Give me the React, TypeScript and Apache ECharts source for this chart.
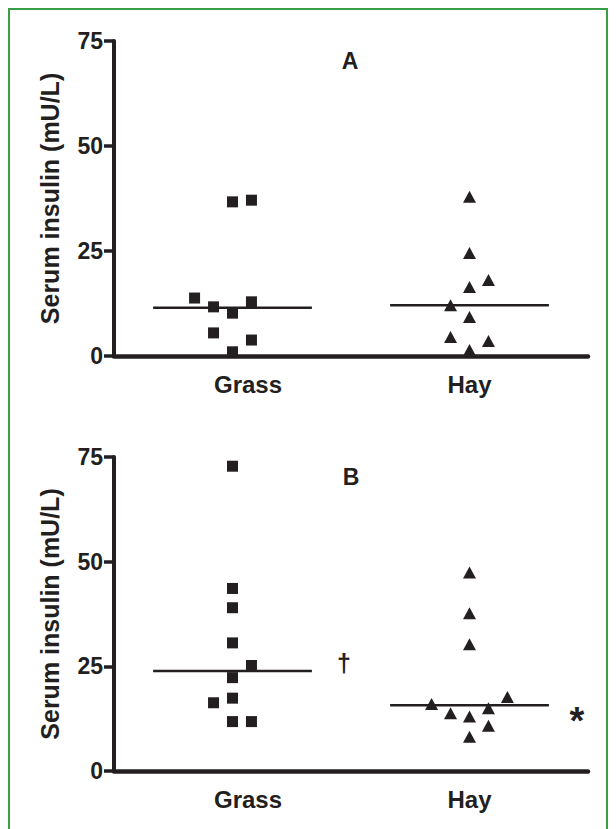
import React, { useEffect, useRef } from "react";
import * as echarts from "echarts";

// ---- data ----
const categories = ["Grass", "Hay"];
const yTicks = [0, 25, 50, 75];

// Panel A (values in mU/L, jitter in column steps)
const aGrassValues = [36.7, 37.1, 13.8, 11.7, 10.2, 12.9, 5.5, 3.8, 1.0];
const aGrassJitter = [0, 1, -2, -1, 0, 1, -1, 1, 0];
const aHayValues = [37.9, 24.5, 16.4, 18.1, 12.1, 9.3, 4.5, 3.6, 1.4];
const aHayJitter = [0, 0, 0, 1, -1, 0, -1, 1, 0];
const aMedians = [11.5, 12.1];

// Panel B
const bGrassValues = [72.8, 43.6, 39.0, 30.6, 25.2, 22.3, 16.3, 17.4, 11.8, 11.8];
const bGrassJitter = [0, 0, 0, 0, 1, 0, -1, 0, 0, 1];
const bHayValues = [47.4, 37.7, 30.3, 17.7, 16.0, 13.8, 13.0, 15.0, 10.8, 8.2];
const bHayJitter = [0, 0, 0, 2, -2, -1, 0, 1, 1, 0];
const bMedians = [23.9, 15.7];

const panelLabels = ["A", "B"];
const grassMark = "†";
const hayMark = "*";

const INK = "#231f20";
const FONT = "Liberation Sans, Arial, sans-serif";
const JITTER_STEP = 0.08;
const HALF_LINE = 0.335;

function pts(values: number[], jitter: number[], cat: number) {
  return values.map((v, i) => [cat + jitter[i] * JITTER_STEP, v]);
}

export default function App() {
  const ref = useRef<HTMLDivElement>(null);
  useEffect(() => {
    if (!ref.current) return;
    const chart = echarts.init(ref.current, null, { renderer: "svg" });

    const grids = [
      { left: 114, top: 41, width: 474, height: 315 },
      { left: 114, top: 457, width: 474, height: 314 },
    ];

    const catAxis = (gi: number) => ({
      type: "category",
      gridIndex: gi,
      data: categories.map((c, i) =>
        i === 0 ? { value: c, textStyle: { padding: [0, 0, 0, 31] } } : c
      ),
      boundaryGap: true,
      axisLine: { show: true, onZero: false, lineStyle: { color: INK, width: 4.5, cap: "round" } },
      axisTick: { show: false },
      axisLabel: {
        color: INK,
        fontFamily: FONT,
        fontWeight: "bold",
        fontSize: 24,
        margin: 16,
      },
      splitLine: { show: false },
      z: 3,
    });
    const valX = (gi: number) => ({
      type: "value",
      gridIndex: gi,
      min: -0.5,
      max: 1.5,
      show: false,
      axisLine: { onZero: false },
    });
    const yAx = (gi: number) => ({
      type: "value",
      gridIndex: gi,
      min: 0,
      max: 75,
      interval: 25,
      name: "Serum insulin (mU/L)",
      nameLocation: "middle",
      nameGap: 52,
      nameTextStyle: {
        color: INK,
        fontFamily: FONT,
        fontWeight: "bold",
        fontSize: 25,
      },
      axisLine: { show: true, onZero: false, lineStyle: { color: INK, width: 4 } },
      axisTick: { show: true, length: 10, lineStyle: { color: INK, width: 3.5 } },
      axisLabel: {
        color: INK,
        fontFamily: FONT,
        fontWeight: "bold",
        fontSize: 23,
        margin: 11,
        formatter: (v: number) => (yTicks.includes(v) ? String(v) : ""),
      },
      splitLine: { show: false },
    });

    const scatter = (data: number[][], gi: number, symbol: string, size: any) => ({
      type: "scatter",
      xAxisIndex: gi * 2 + 1,
      yAxisIndex: gi,
      symbol,
      symbolSize: size,
      itemStyle: { color: INK, opacity: 1 },
      data,
      z: 4,
    });
    const medianLine = (m: number, cat: number, gi: number) => ({
      type: "line",
      xAxisIndex: gi * 2 + 1,
      yAxisIndex: gi,
      symbol: "none",
      lineStyle: { color: INK, width: 2.5 },
      data: [
        [cat - HALF_LINE, m],
        [cat + HALF_LINE, m],
      ],
      z: 5,
    });

    const textStyle = (extra: any) => ({
      fill: INK,
      fontFamily: FONT,
      align: "center",
      verticalAlign: "middle",
      ...extra,
    });

    chart.setOption({
      animation: false,
      backgroundColor: "#ffffff",
      grid: grids,
      xAxis: [catAxis(0), valX(0), catAxis(1), valX(1)],
      yAxis: [yAx(0), yAx(1)],
      series: [
        scatter(pts(aGrassValues, aGrassJitter, 0), 0, "rect", 11),
        scatter(pts(aHayValues, aHayJitter, 1), 0, "triangle", [13, 12]),
        medianLine(aMedians[0], 0, 0),
        medianLine(aMedians[1], 1, 0),
        scatter(pts(bGrassValues, bGrassJitter, 0), 1, "rect", 11),
        scatter(pts(bHayValues, bHayJitter, 1), 1, "triangle", [13, 12]),
        medianLine(bMedians[0], 0, 1),
        medianLine(bMedians[1], 1, 1),
      ],
      graphic: [
        {
          type: "rect",
          shape: { x: 9, y: 9, width: 598, height: 840 },
          style: { fill: "none", stroke: "#3a9e47", lineWidth: 2 },
          silent: true,
        },
        {
          type: "text",
          x: 350,
          y: 61,
          style: textStyle({ text: panelLabels[0], fontSize: 23, fontWeight: "bold" }),
        },
        {
          type: "text",
          x: 351,
          y: 477,
          style: textStyle({ text: panelLabels[1], fontSize: 23, fontWeight: "bold" }),
        },
        {
          type: "text",
          x: 344,
          y: 663,
          style: textStyle({ text: grassMark, fontSize: 25, fontWeight: "bold" }),
        },
        {
          type: "text",
          x: 577,
          y: 721,
          style: textStyle({ text: hayMark, fontSize: 38, fontWeight: "bold" }),
        },
      ],
    });
    return () => chart.dispose();
  }, []);
  return (
    <div
      ref={ref}
      style={{ position: "absolute", left: 0, top: 0, width: 616, height: 829 }}
    />
  );
}
